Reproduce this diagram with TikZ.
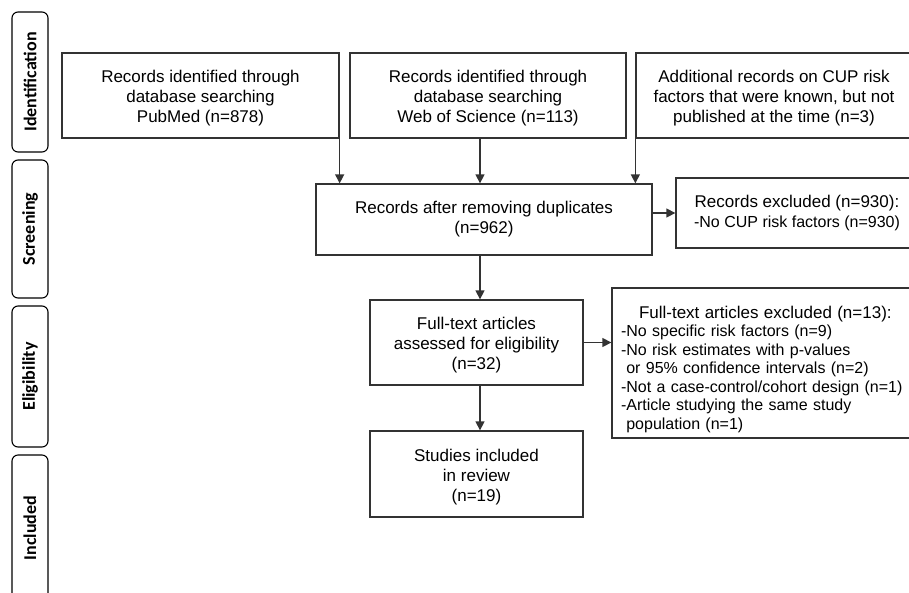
\documentclass[tikz,border=0pt]{standalone}
\usepackage{fontspec}
\setmainfont{Liberation Sans}
\newfontfamily\phasefont{Carlito}
\usetikzlibrary{arrows.meta,positioning}

\newcommand{\lowtop}{\rule{0pt}{18.5pt}}

\begin{document}
\begin{tikzpicture}[
    x=1pt, y=-1pt,
    box/.style={rectangle, draw=black!80, line width=1.3pt, align=center, inner sep=0pt, font=\fontsize{17}{20}\selectfont},
    phase/.style={rectangle, rounded corners=6pt, draw, line width=1.1pt, rotate=90, minimum height=36, inner sep=0pt, font=\phasefont\bfseries\fontsize{18}{20}\selectfont},
    arrow/.style={-{Triangle[length=9pt, width=9pt]}, draw=black!80, line width=1.3pt}
]

\clip (0,0) rectangle (909,592);

% Phases
\node[phase, minimum width=140] (id) at (30, 82) {Identification};
\node[phase, minimum width=138] (scr) at (30, 229) {Screening};
\node[phase, minimum width=141] (elig) at (30, 376.5) {Eligibility};
\node[phase, minimum width=146] (inc) at (30, 528) {Included};

% Sources
\node[box, minimum width=277, minimum height=85] (pubmed) at (200.5, 95.5) {\lowtop Records identified through\\database searching\\PubMed (n=878)};
\node[box, minimum width=276, minimum height=85] (wos) at (488, 95.5) {\lowtop Records identified through\\database searching\\Web of Science (n=113)};
\node[box, minimum width=276, minimum height=85] (extra) at (774, 95.5) {\lowtop Additional records on CUP risk\\factors that were known, but not\\published at the time (n=3)};

% Screening
\node[box, minimum width=336, minimum height=71] (dedup) at (484, 219.5) {Records after removing duplicates\\(n=962)};
\node[box, minimum width=242, minimum height=70] (excl1) at (797, 213) {Records excluded (n=930):\\\fontsize{16}{20}\selectfont -No CUP risk factors (n=930)};

% Eligibility
\node[box, minimum width=213, minimum height=85] (fulltext) at (476.5, 342.5) {\lowtop Full-text articles\\assessed for eligibility\\(n=32)};
\node[box, minimum width=308, minimum height=150, text width=290, align=left, font=\fontsize{16}{18.5}\selectfont] (excl2) at (766, 363) {\rule{0pt}{24.5pt}\hspace*{18pt}{\fontsize{17}{18.5}\selectfont Full-text articles excluded (n=13):}\\-No specific risk factors (n=9)\\-No risk estimates with p-values\\\ or 95\% confidence intervals (n=2)\\-Not a case-control/cohort design (n=1)\\-Article studying the same study\\\ population (n=1)};

% Included
\node[box, minimum width=213, minimum height=86] (studies) at (476.5, 474) {\lowtop Studies included\\in review\\(n=19)};

% Arrows
\coordinate (col) at (480, 0);
\draw[arrow] (pubmed.south east) -- (pubmed.south east |- dedup.north);
\draw[arrow] (wos.south -| col) -- (dedup.north -| col);
\draw[arrow] (extra.south west) -- (extra.south west |- dedup.north);
\draw[arrow] (dedup.east |- excl1.west) -- (excl1.west);
\draw[arrow] (dedup.south -| col) -- (fulltext.north -| col);
\draw[arrow] (fulltext.east) -- (fulltext.east -| excl2.west);
\draw[arrow] (fulltext.south -| col) -- (studies.north -| col);

\end{tikzpicture}
\end{document}
